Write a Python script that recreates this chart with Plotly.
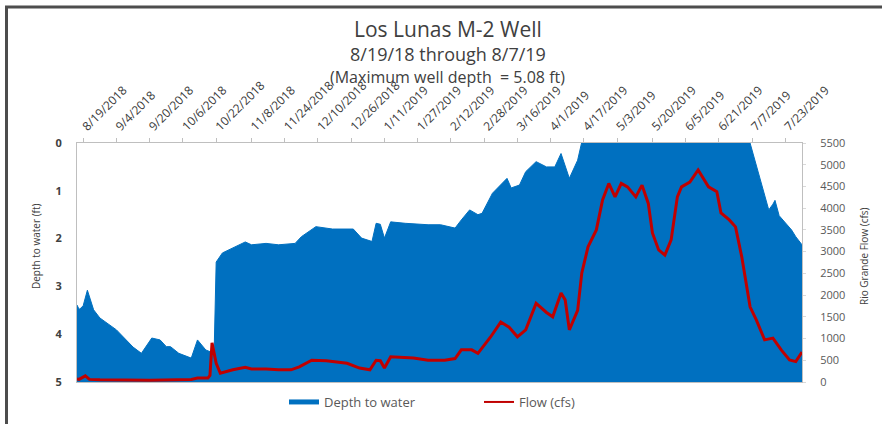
import plotly.graph_objects as go

# Couleurs (style Excel)
BLUE = "#0070C0"
RED = "#C00000"
TEXT = "#404040"
TICK = "#595959"
FONT = "Open Sans"

# Zone de tracé en pixels (882 x 424)
W, H = 882, 424
L, R, T, B = 77, 80, 143, 42

# Graduations de l'axe des dates (en haut)
tick_dates = [
    "2018-08-19", "2018-09-04", "2018-09-20", "2018-10-06", "2018-10-22",
    "2018-11-08", "2018-11-24", "2018-12-10", "2018-12-26", "2019-01-11",
    "2019-01-27", "2019-02-12", "2019-02-28", "2019-03-16", "2019-04-01",
    "2019-04-17", "2019-05-03", "2019-05-20", "2019-06-05", "2019-06-21",
    "2019-07-07", "2019-07-23",
]
tick_labels = [
    "8/19/2018", "9/4/2018", "9/20/2018", "10/6/2018", "10/22/2018",
    "11/8/2018", "11/24/2018", "12/10/2018", "12/26/2018", "1/11/2019",
    "1/27/2019", "2/12/2019", "2/28/2019", "3/16/2019", "4/1/2019",
    "4/17/2019", "5/3/2019", "5/20/2019", "6/5/2019", "6/21/2019",
    "7/7/2019", "7/23/2019",
]

# Profondeur de l'eau (ft) — valeurs négatives = puits plein (hors cadre)
depth_dates = [
    "2018-08-16", "2018-08-17", "2018-08-18", "2018-08-19", "2018-08-21",
    "2018-08-24", "2018-08-27", "2018-09-04", "2018-09-12", "2018-09-16",
    "2018-09-21", "2018-09-25", "2018-09-28", "2018-09-30", "2018-10-04",
    "2018-10-10", "2018-10-13", "2018-10-17", "2018-10-21", "2018-10-22",
    "2018-10-25", "2018-10-30", "2018-11-05", "2018-11-08", "2018-11-15",
    "2018-11-21", "2018-11-29", "2018-12-02", "2018-12-09", "2018-12-17",
    "2018-12-27", "2018-12-31", "2019-01-05", "2019-01-07", "2019-01-09",
    "2019-01-11", "2019-01-14", "2019-01-21", "2019-02-01", "2019-02-07",
    "2019-02-14", "2019-02-17", "2019-02-21", "2019-02-25", "2019-02-27",
    "2019-03-04", "2019-03-11", "2019-03-13", "2019-03-17", "2019-03-20",
    "2019-03-25", "2019-03-30", "2019-04-03", "2019-04-06", "2019-04-08",
    "2019-04-10", "2019-04-14", "2019-04-16", "2019-04-18", "2019-05-20",
    "2019-07-03", "2019-07-06", "2019-07-10", "2019-07-13", "2019-07-15",
    "2019-07-17", "2019-07-18", "2019-07-20", "2019-07-23", "2019-07-26",
    "2019-07-28", "2019-07-31",
]
depth_ft = [
    3.39, 3.48, 3.45, 3.40, 3.08,
    3.49, 3.66, 3.91, 4.27, 4.40,
    4.08, 4.12, 4.26, 4.26, 4.40,
    4.50, 4.12, 4.33, 4.40, 2.49,
    2.30, 2.20, 2.07, 2.13, 2.10,
    2.13, 2.10, 1.96, 1.75, 1.80,
    1.80, 1.99, 2.06, 1.68, 1.70,
    1.99, 1.65, 1.68, 1.71, 1.71,
    1.78, 1.61, 1.40, 1.50, 1.47,
    1.05, 0.74, 0.94, 0.88, 0.60,
    0.39, 0.50, 0.50, 0.22, 0.46,
    0.74, 0.36, 0.00, -0.40, -0.30,
    -0.30, 0.00, 0.63, 1.12, 1.40,
    1.28, 1.20, 1.52, 1.68, 1.82,
    1.96, 2.13,
]

# Débit du Rio Grande (cfs)
flow_dates = [
    "2018-08-16", "2018-08-17", "2018-08-20", "2018-08-22", "2018-08-27",
    "2018-09-20", "2018-10-10", "2018-10-13", "2018-10-18", "2018-10-19",
    "2018-10-20", "2018-10-22", "2018-10-24", "2018-10-30", "2018-11-05",
    "2018-11-08", "2018-11-15", "2018-11-21", "2018-11-27", "2018-12-01",
    "2018-12-07", "2018-12-14", "2018-12-24", "2018-12-30", "2019-01-04",
    "2019-01-07", "2019-01-09", "2019-01-11", "2019-01-14", "2019-01-25",
    "2019-02-01", "2019-02-09", "2019-02-14", "2019-02-17", "2019-02-22",
    "2019-02-25", "2019-03-03", "2019-03-08", "2019-03-12", "2019-03-16",
    "2019-03-20", "2019-03-25", "2019-03-30", "2019-04-02", "2019-04-06",
    "2019-04-08", "2019-04-10", "2019-04-14", "2019-04-16", "2019-04-19",
    "2019-04-23", "2019-04-26", "2019-04-29", "2019-05-02", "2019-05-05",
    "2019-05-08", "2019-05-12", "2019-05-15", "2019-05-18", "2019-05-20",
    "2019-05-23", "2019-05-26", "2019-05-29", "2019-06-01", "2019-06-03",
    "2019-06-07", "2019-06-11", "2019-06-14", "2019-06-16", "2019-06-20",
    "2019-06-22", "2019-06-26", "2019-06-29", "2019-07-02", "2019-07-06",
    "2019-07-09", "2019-07-13", "2019-07-17", "2019-07-21", "2019-07-25",
    "2019-07-28", "2019-07-31",
]
flow_cfs = [
    70, 60, 140, 60, 50,
    40, 60, 90, 90, 150,
    900, 430, 200, 280, 340,
    300, 300, 280, 280, 350,
    500, 490, 430, 320, 280,
    500, 490, 320, 580, 550,
    500, 500, 540, 740, 740,
    660, 1030, 1380, 1260, 1040,
    1200, 1810, 1600, 1500, 2050,
    1890, 1200, 1650, 2510, 3110,
    3500, 4190, 4570, 4260, 4570,
    4490, 4260, 4530, 4110, 3430,
    3040, 2920, 3270, 4260, 4490,
    4600, 4880, 4650, 4490, 4380,
    3890, 3730, 3570, 2880, 1730,
    1430, 970, 1010, 740, 510,
    470, 690,
]

MAX_DEPTH = 5.08


def px_x(px):
    return (px - L) / (W - L - R)


def px_y(py):
    return (H - B - py) / (H - T - B)


fig = go.Figure()

# Fond de puits (ligne de base pour le remplissage)
fig.add_trace(go.Scatter(
    x=[depth_dates[0], depth_dates[-1]],
    y=[MAX_DEPTH, MAX_DEPTH],
    mode="lines", line=dict(width=0, color=BLUE),
    showlegend=False, hoverinfo="skip",
))

fig.add_trace(go.Scatter(
    x=depth_dates, y=depth_ft,
    mode="lines", line=dict(width=1, color=BLUE),
    fill="tonexty", fillcolor=BLUE,
    name="Depth to water", showlegend=False,
))

fig.add_trace(go.Scatter(
    x=flow_dates, y=flow_cfs, yaxis="y2",
    mode="lines", line=dict(width=3, color=RED),
    name="Flow (cfs)", showlegend=False,
))

# Entrées de légende
fig.add_trace(go.Scatter(
    x=[None], y=[None], mode="lines", legendrank=1,
    line=dict(width=5, color=BLUE), name="Depth to water",
))
fig.add_trace(go.Scatter(
    x=[None], y=[None], mode="lines", yaxis="y2", legendrank=2,
    line=dict(width=2, color=RED), name="Flow (cfs)",
))

fig.update_layout(
    width=W, height=H,
    margin=dict(l=L, r=R, t=T, b=B, autoexpand=False),
    paper_bgcolor="white",
    plot_bgcolor="white",
    font=dict(family=FONT, color=TEXT),
    xaxis=dict(
        type="date", side="top", automargin=False,
        range=["2018-08-16", "2019-07-31"],
        tickvals=tick_dates, ticktext=tick_labels,
        tickangle=-45,
        tickfont=dict(size=12, color="#3A3A3A"),
        ticks="outside", ticklen=4, tickcolor="#BFBFBF",
        showgrid=False, zeroline=False,
        showline=True, linecolor="#BFBFBF", mirror=True,
    ),
    yaxis=dict(
        range=[5, 0], dtick=1, automargin=False,
        tickfont=dict(size=11, color=TEXT, weight="bold"),
        ticklabelstandoff=12,
        showgrid=False, zeroline=False,
        showline=True, linecolor="#BFBFBF", mirror=True,
    ),
    yaxis2=dict(
        overlaying="y", side="right", automargin=False,
        range=[0, 5500], dtick=500,
        tickfont=dict(size=11, color=TICK),
        ticks="outside", ticklen=3, tickcolor="#D9D9D9",
        ticklabelstandoff=12,
        showgrid=False, zeroline=False,
    ),
    legend=dict(
        orientation="h", x=px_x(284), xanchor="left",
        y=px_y(402), yanchor="middle",
        font=dict(size=13, color=TICK),
        entrywidth=150,
        traceorder="normal",
    ),
)

# Titres
titles = [
    ("Los Lunas M-2 Well", 29, 21),
    ("8/19/18 through 8/7/19", 54.5, 18),
    ("(Maximum well depth  = 5.08 ft)", 77, 16),
]
for text, py, size in titles:
    fig.add_annotation(
        text=text, xref="paper", yref="paper",
        x=px_x(448), y=px_y(py), showarrow=False,
        xanchor="center", yanchor="middle",
        font=dict(size=size, color=TEXT),
    )

# Titres des axes
fig.add_annotation(
    text="Depth to water (ft)", xref="paper", yref="paper",
    x=px_x(27), y=px_y(246), textangle=-90, showarrow=False,
    font=dict(size=10, color=TEXT),
)
fig.add_annotation(
    text="Rio Grande Flow (cfs)", xref="paper", yref="paper",
    x=px_x(873), y=px_y(256), textangle=-90, showarrow=False,
    font=dict(size=10, color=TEXT),
)

# Cadre extérieur (haut et gauche)
fig.add_shape(
    type="line", xref="paper", yref="paper",
    x0=px_x(5), x1=px_x(W), y0=px_y(7), y1=px_y(7),
    line=dict(color="#4D4D4D", width=3),
)
fig.add_shape(
    type="line", xref="paper", yref="paper",
    x0=px_x(6.5), x1=px_x(6.5), y0=px_y(6), y1=px_y(H),
    line=dict(color="#4D4D4D", width=3),
)

# Pas de marge de page autour de la figure
fig.write_html(
    "out.html",
    config={"displayModeBar": False},
    post_script="document.body.style.margin='0';",
)
